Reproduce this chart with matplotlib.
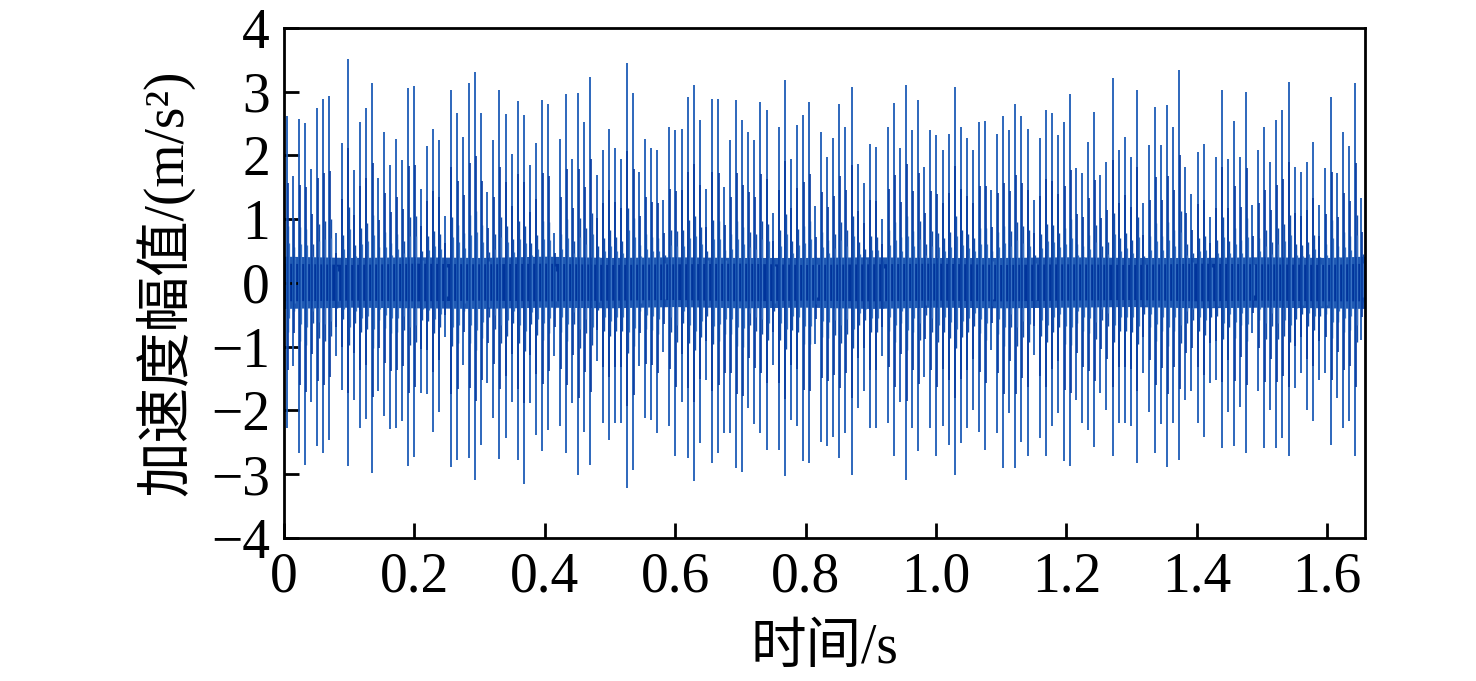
import numpy as np
import matplotlib
matplotlib.use("Agg")
import matplotlib.pyplot as plt

# impulse train: one spike every ~0.00931 s
SPIKE_START = 0.0046
SPIKE_PERIOD = 0.00931

PEAK = [2.62, 1.68, 2.57, 2.51, 1.79, 2.74, 2.88, 2.93, 0.78, 2.20, 3.52, 1.77, 2.53, 2.75, 3.13,
        1.64, 2.36, 1.85, 2.25, 1.93, 3.05, 3.09, 1.48, 2.15, 2.41, 2.24, 1.05, 3.03, 2.66, 2.29,
        3.13, 3.31, 2.67, 1.43, 2.24, 3.03, 2.65, 2.02, 2.86, 2.63, 1.85, 2.19, 2.87, 2.80, 0.78,
        2.25, 2.97, 1.95, 2.98, 2.52, 3.23, 1.69, 2.08, 2.42, 2.11, 1.95, 3.45, 2.98, 1.74, 2.25, 2.11,
        2.08, 1.30, 2.45, 2.40, 2.42, 2.91, 3.10, 2.56, 1.47, 2.89, 2.88, 1.51, 2.24, 2.87, 2.56,
        2.37, 2.24, 2.84, 2.71, 1.09, 2.44, 3.19, 1.95, 2.48, 2.63, 2.84, 1.21, 2.37, 1.98, 2.27,
        2.80, 2.44, 3.08, 1.87, 1.56, 2.18, 2.14, 1.01, 2.45, 2.83, 2.11, 3.10, 2.40, 2.87, 1.82,
        2.40, 2.32, 2.08, 2.34, 3.07, 2.45, 2.27, 2.09, 2.53, 2.54, 1.46, 2.34, 2.62, 2.40, 2.81,
        2.62, 2.42, 1.30, 2.27, 2.71, 2.67, 2.32, 2.53, 2.96, 1.80, 1.72, 2.21, 2.68, 1.69, 1.90,
        3.22, 2.09, 2.29, 1.98, 3.03, 1.25, 2.16, 2.76, 2.16, 2.79, 2.44, 3.34, 1.82, 1.39, 2.06, 2.18,
        1.04, 1.97, 3.02, 1.95, 2.54, 1.98, 3.00, 1.22, 2.08, 2.44, 1.90, 2.55, 2.71, 3.15, 1.82,
        1.74, 1.90, 2.21, 1.22, 1.80, 2.91, 1.72, 2.36, 2.15, 3.14, 1.33]

TROUGH = [-2.28, -1.31, -2.67, -2.85, -1.86, -2.55, -2.67, -2.46, -1.15, -1.68, -2.87, -1.83, -2.28, -2.14, -2.98,
          -1.70, -2.09, -2.29, -2.28, -2.17, -2.87, -2.73, -1.73, -1.74, -2.33, -2.02, -0.84, -2.89, -2.78, -1.28,
          -2.75, -3.09, -2.54, -1.57, -2.12, -2.76, -2.43, -1.86, -2.77, -3.15, -1.89, -2.38, -2.64, -2.30, -1.15,
          -2.25, -2.67, -1.89, -3.01, -2.33, -2.85, -1.23, -2.20, -2.46, -2.20, -2.20, -3.22, -2.93, -1.31, -2.12, -2.15,
          -2.36, -1.08, -2.25, -2.72, -1.86, -2.75, -3.11, -2.51, -1.52, -2.83, -2.67, -2.36, -2.36, -2.90, -2.96,
          -1.96, -2.22, -2.36, -2.62, -1.28, -2.62, -3.03, -2.15, -2.25, -2.80, -2.83, -0.95, -2.49, -2.56, -2.41,
          -2.75, -2.36, -3.01, -1.96, -1.70, -2.28, -2.28, -1.15, -2.20, -2.72, -1.86, -3.09, -2.28, -2.64, -1.47,
          -2.28, -2.72, -2.25, -2.54, -3.01, -2.51, -2.28, -1.99, -2.33, -2.62, -1.05, -2.36, -2.90, -2.04, -2.90,
          -2.49, -2.71, -1.13, -2.43, -2.72, -2.25, -2.04, -2.80, -2.87, -1.83, -2.20, -2.30, -2.57, -1.73, -1.99,
          -2.72, -2.20, -2.20, -2.25, -2.83, -1.42, -2.02, -2.67, -2.22, -2.89, -2.20, -2.77, -1.83, -1.70, -2.20, -2.41,
          -1.57, -1.52, -2.59, -2.02, -2.56, -1.94, -2.67, -0.79, -1.70, -2.59, -1.99, -2.59, -2.43, -2.72, -1.65,
          -1.42, -1.99, -2.17, -1.52, -1.42, -2.54, -1.81, -2.28, -2.17, -2.72, -0.89]

# background noise envelope (outer fringe and dense core)
BAND_T = [0, 0.1, 0.2, 0.3, 0.4, 0.5, 0.6, 0.7, 0.8, 0.9, 1.0, 1.1, 1.2, 1.3, 1.4, 1.5, 1.6, 1.658]
BAND_HI = [0.42, 0.40, 0.41, 0.40, 0.42, 0.40, 0.41, 0.40, 0.40, 0.41, 0.40, 0.40, 0.41, 0.40, 0.40, 0.41, 0.40, 0.42]
BAND_LO = [-0.40, -0.38, -0.39, -0.40, -0.38, -0.39, -0.37, -0.39, -0.38, -0.40, -0.38, -0.39, -0.38, -0.37, -0.39, -0.38, -0.39, -0.40]
CORE_HI = [0.31, 0.29, 0.31, 0.30, 0.31, 0.29, 0.30, 0.31, 0.29, 0.30, 0.31, 0.29, 0.30, 0.29, 0.31, 0.30, 0.29, 0.31]
CORE_LO = [-0.28, -0.27, -0.28, -0.27, -0.28, -0.27, -0.26, -0.28, -0.27, -0.28, -0.27, -0.28, -0.27, -0.26, -0.28, -0.27, -0.28, -0.28]

X_MAX = 1.658
X_TICKS = [0, 0.2, 0.4, 0.6, 0.8, 1.0, 1.2, 1.4, 1.6]
X_LABELS = ["0", "0.2", "0.4", "0.6", "0.8", "1.0", "1.2", "1.4", "1.6"]
Y_TICKS = [-4, -3, -2, -1, 0, 1, 2, 3, 4]
Y_LABELS = ["\u22124", "\u22123", "\u22122", "\u22121", "0", "1", "2", "3", "4"]

fontSize = 40
plt.rcParams['font.family'] = ['Liberation Serif', 'Noto Sans CJK SC']
plt.rcParams['font.size'] = fontSize

fig = plt.figure(figsize=(14.76, 6.81), dpi=100)
ax = fig.add_axes([0.1924, 0.21, 0.7324, 0.749])

t_spike = SPIKE_START + SPIKE_PERIOD * np.arange(len(PEAK))
pk = np.array(PEAK)
tr = np.array(TROUGH)

# noise band, then the impulses with their ringing
ax.fill_between(BAND_T, BAND_LO, BAND_HI, color='#1f58b2', linewidth=0)
ax.vlines(t_spike, tr, pk, color='#1c5cb6', linewidth=1.3)
ax.vlines(t_spike + 0.0009, tr * 0.6, pk * 0.6, color='#063a9f', linewidth=1.2)
ax.vlines(t_spike + 0.0019, tr * 0.34, pk * 0.34, color='#1550ad', linewidth=1.0)
ax.vlines(t_spike + 0.0031, tr * 0.24, pk * 0.24, color='#3a73c4', linewidth=0.9)
ax.fill_between(BAND_T, CORE_LO, CORE_HI, color='#00349c', linewidth=0)

ax.set_xlim(0, X_MAX)
ax.set_ylim(-4, 4)
ax.set_xticks(X_TICKS)
ax.set_xticklabels(X_LABELS)
ax.set_yticks(Y_TICKS)
ax.set_yticklabels(Y_LABELS)
ax.tick_params(direction='in', length=11, width=2, top=False, right=False, pad=10)

for s in ax.spines.values():
    s.set_linewidth(2)

ax.set_xlabel("时间/s", fontsize=fontSize, labelpad=14)
ax.set_ylabel("加速度幅值/(m/s\u00b2)", fontsize=fontSize, labelpad=12)

fig.savefig("out.png", dpi=100)
